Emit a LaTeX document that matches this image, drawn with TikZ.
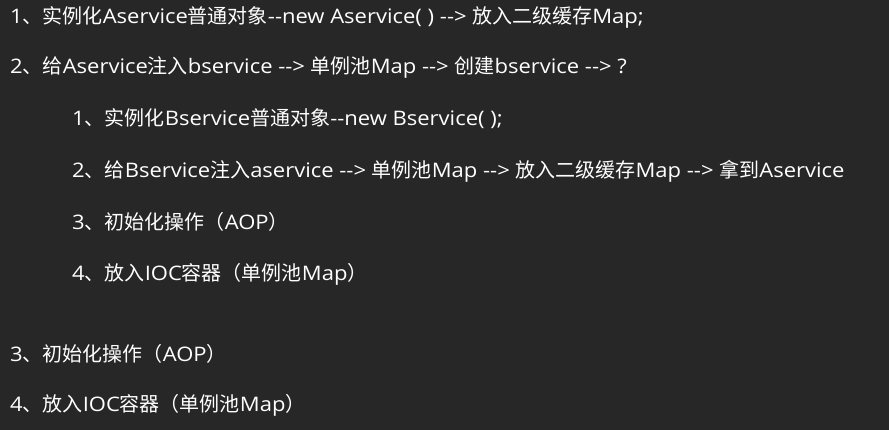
\documentclass[tikz,border=0pt]{standalone}
\usepackage{fontspec}
\setmainfont[Ligatures=TeXOff, FakeStretch=1.1]{Open Sans}
\newfontfamily\cjkfont[Ligatures=TeXOff]{Noto Sans CJK SC}
\newfontfamily\latfont[Ligatures=TeXOff, FakeStretch=1.1]{Open Sans}
% switch fonts between Latin and CJK runs
\newXeTeXintercharclass\zhclass
\makeatletter
\newcommand\setzhrange[2]{\count@=#1\relax
  \loop\XeTeXcharclass\count@=\zhclass\relax
  \ifnum\count@<#2\relax\advance\count@ 1\relax\repeat}
\setzhrange{"3000}{"303F}
\setzhrange{"4E00}{"9FFF}
\setzhrange{"FF00}{"FFEF}
\XeTeXinterchartoks 0 \zhclass = {\cjkfont}
\XeTeXinterchartoks \zhclass 0 = {\latfont}
\XeTeXinterchartoks \e@alloc@intercharclass@top \zhclass = {\cjkfont}
\XeTeXinterchartoks \e@alloc@intercharclass@top 0 = {\latfont}
\makeatother
\definecolor{bgdark}{HTML}{272727}
\tikzset{line/.style={anchor = west, inner sep=0pt, text=white, font=\fontsize{20}{22}\selectfont}}

\begin{document}
\XeTeXinterchartokenstate=1\relax
\begin{tikzpicture}[x=1pt, y=-1pt]
	\fill[bgdark] (0,0) rectangle (889,430);
	\node[line] (l1) at (10,17) {1、实例化Aservice普通对象--new Aservice( ) --> 放入二级缓存Map;};
	\node[line] (l2) at (10,67) {2、给Aservice注入bservice --> 单例池Map --> 创建bservice --> ?};
	\node[line] (l3) at (72,119) {1、实例化Bservice普通对象--new Bservice( );};
	\node[line] (l4) at (72,171) {2、给Bservice注入aservice --> 单例池Map --> 放入二级缓存Map --> 拿到Aservice};
	\node[line] (l5) at (72,222) {3、初始化操作（AOP）};
	\node[line] (l6) at (72,274) {4、放入IOC容器（单例池Map）};
	\node[line] (l7) at (10,354) {3、初始化操作（AOP）};
	\node[line] (l8) at (10,405) {4、放入IOC容器（单例池Map）};
\end{tikzpicture}
\end{document}
